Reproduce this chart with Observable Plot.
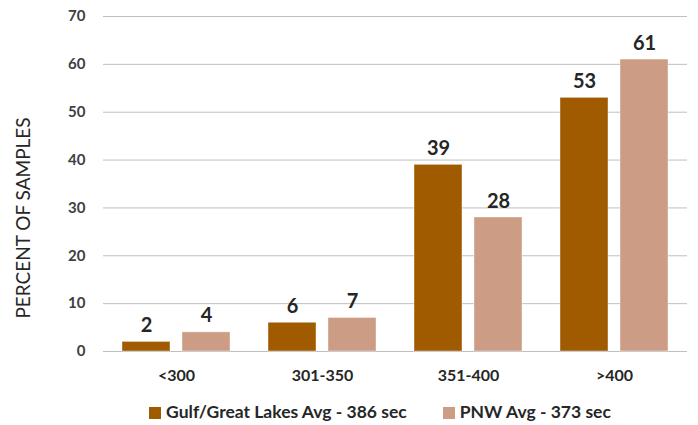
<!DOCTYPE html>
<html>
<head>
<meta charset="utf-8">
<script src="https://cdn.jsdelivr.net/npm/d3@7"></script>
<script src="https://cdn.jsdelivr.net/npm/@observablehq/plot@0.6"></script>
<style>
  body { margin: 0; background: #fff; font-family: Lato, "Open Sans", sans-serif; }
  #chart { width: 698px; }
  .legend { display: flex; justify-content: center; gap: 36px; margin-left: 62px; height: 32px; align-items: center;
    font-family: Lato, sans-serif; font-weight: bold; font-size: 17.5px; color: #262626; }
  .legend span.sw { display: inline-block; width: 12px; height: 12px; margin-right: 5px; vertical-align: -1px; }
</style>
</head>
<body>
<div id="chart"></div>
<script>
const categories = ["<300", "301-350", "351-400", ">400"];
const seriesNames = ["Gulf/Great Lakes Avg - 386 sec", "PNW Avg - 373 sec"];
const gulfValues = [2, 6, 39, 53];
const pnwValues = [4, 7, 28, 61];
const yTicks = [0, 10, 20, 30, 40, 50, 60, 70];
const colors = ["#a05a00", "#cc9c85"];
const yLabel = "PERCENT OF SAMPLES";

const data = [];
categories.forEach((c, i) => {
  data.push({cat: c, series: seriesNames[0], value: gulfValues[i]});
  data.push({cat: c, series: seriesNames[1], value: pnwValues[i]});
});

const chart = Plot.plot({
  width: 698,
  height: 395,
  marginLeft: 101,
  marginRight: 10,
  marginTop: 16,
  marginBottom: 44,
  style: {fontFamily: "Lato, 'Open Sans', sans-serif", background: "#fff", color: "#262626"},
  fx: {domain: categories, padding: 0, label: null},
  x: {domain: seriesNames, paddingInner: 0.2, paddingOuter: 0.3, axis: null},
  y: {domain: [0, 70], label: null},
  color: {domain: seriesNames, range: colors},
  marks: [
    Plot.gridY(yTicks, {stroke: "#bfbfbf", strokeOpacity: 1, strokeWidth: 1}),
    Plot.axisY(yTicks, {tickSize: 0, tickPadding: 18, fontSize: 15, fontWeight: "bold", fill: "#404040", label: null}),
    Plot.axisFx({anchor: "bottom", tickSize: 0, tickPadding: 18, fontSize: 16, fontWeight: "bold", fill: "#262626", label: null}),
    Plot.barY(data, {fx: "cat", x: "series", y: "value", fill: "series", stroke: "#ffffff", strokeOpacity: 0.4, strokeWidth: 1}),
    Plot.text(data, {fx: "cat", x: "series", y: "value", text: d => String(d.value), lineAnchor: "bottom", dy: -10, fontSize: 20, fontWeight: "bold", fill: "#262626"}),
    Plot.text([yLabel], {facet: "super", frameAnchor: "left", textAnchor: "middle", text: d => d, rotate: -90, dx: -80, dy: 34, fontSize: 19, fill: "#262626"})
  ]
});
document.getElementById("chart").appendChild(chart);

const legend = document.createElement("div");
legend.className = "legend";
seriesNames.forEach((s, i) => {
  const item = document.createElement("div");
  const sw = document.createElement("span");
  sw.className = "sw";
  sw.style.background = colors[i];
  item.appendChild(sw);
  item.appendChild(document.createTextNode(s));
  legend.appendChild(item);
});
document.getElementById("chart").appendChild(legend);
</script>
</body>
</html>
